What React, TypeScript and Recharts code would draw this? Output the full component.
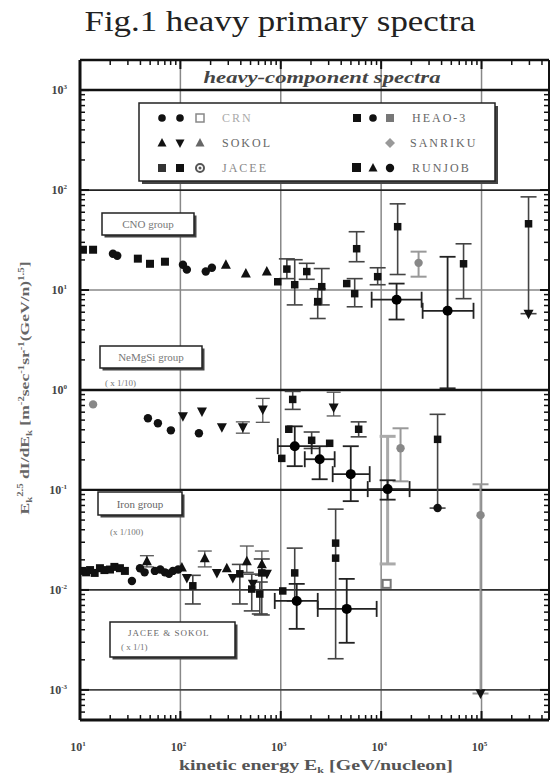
import React from "react";
import { ScatterChart, Scatter, XAxis, YAxis, ErrorBar, ReferenceLine } from "recharts";

// rows: [E (GeV/n), flux, fluxLow, fluxHigh, eLow, eHigh]
const heaoPts = [
  [10.7, 25.3], [13.5, 25.3], [37.7, 20.6], [49.8, 18.3], [70.2, 19.2],
  [10.5, 0.0155], [11.5, 0.015], [12.6, 0.0158], [14, 0.0148], [15.8, 0.0165],
  [17.5, 0.0158], [19.9, 0.016], [22, 0.017], [25.0, 0.0165], [28, 0.0155],
];
const crnPts = [
  [21.3, 23.1], [23.5, 22.0], [106, 17.9], [116, 16.0], [179, 15.3], [206, 16.7],
  [47.5, 0.521], [59.7, 0.465], [80.4, 0.395], [153, 0.369], [36500, 0.0659],
  [32.9, 0.0123], [39.6, 0.0165], [44, 0.015], [55.7, 0.0155], [63, 0.016],
  [70.1, 0.015], [77, 0.0145], [84.2, 0.0155], [95, 0.016],
];
const sokolUpPts = [
  [284, 17.9], [449, 14.6], [726, 15.3],
  [46.4, 0.0194, 0.017, 0.022], [103.5, 0.0168], [175, 0.0208, 0.017, 0.0245],
  [290, 0.0165], [459, 0.0194, 0.015, 0.0275], [648, 0.0181, 0.014, 0.0245],
];
const sokolDownPts = [
  [106, 0.546], [164, 0.611], [259, 0.424], [419, 0.424, 0.37, 0.48],
  [662, 0.64, 0.475, 0.824], [3365, 0.67, 0.55, 0.95],
  [116, 0.0132], [231, 0.0148], [333, 0.0132], [527, 0.0115], [728, 0.0145],
  [294000, 5.8], [97700, 0.00092],
];
const jaceePts = [
  [933, 12.1], [1150, 16.2, 13, 20.5], [1377, 11.3, 7.1, 20.1], [1815, 15.3, 12.8, 18.5],
  [2334, 7.66, 5.19, 10.3], [2559, 10.8, 7.1, 16.4], [4540, 11.6], [5450, 9.2, 6.8, 13.0],
  [5700, 25.9, 19.2, 38.3], [9230, 13.6, 11.3, 16.7], [14600, 43.0, 14.3, 72.8],
  [66200, 18.3, 8.2, 29.0], [294000, 46.0, 5.8, 85.5],
  [1315, 0.805, 0.64, 0.968], [1202, 0.405], [2031, 0.314, 0.26, 0.38], [3070, 0.293],
  [5970, 0.405, 0.34, 0.48], [1023, 0.207], [36500, 0.321, 0.0659, 0.571],
  [133, 0.011, 0.00724, 0.014], [391, 0.0145, 0.00724, 0.018], [514, 0.0102, 0.00617, 0.0144],
  [618, 0.0091, 0.00575, 0.012], [647, 0.0148, 0.00562, 0.0204], [1047, 0.00977],
  [1377, 0.0148, 0.00776, 0.0262], [3520, 0.0208, 0.00205, 0.0643], [3520, 0.0294],
];
const runjobPts = [
  [14250, 8.0, 5.07, 11.6, 8040, 25300], [45900, 6.2, 1.04, 21.5, 25900, 83200],
  [1378, 0.274, 0.173, 0.433, 934, 2031], [2440, 0.203, 0.128, 0.274, 1734, 3442],
  [4980, 0.144, 0.0773, 0.274, 3290, 7690], [11600, 0.102, 0.08, 0.125, 7350, 19200],
  [1442, 0.00776, 0.00408, 0.0115, 871, 2335], [4540, 0.00646, 0.00296, 0.0129, 2335, 9020],
];
const greyPts = [
  [23600, 18.7, 13.6, 24.2], [13.5, 0.718], [15600, 0.261, 0.122, 0.414],
  [97700, 0.056, 0.00092, 0.114],
];
const openSqPts = [[11350, 0.0115]];
const greyBarPts = [[11600, 0.08, 0.0182, 0.344]];

const xDecades = [10, 100, 1000, 10000, 100000];
const yDecades = [0.0001, 0.001, 0.01, 0.1, 1, 10, 100, 1000];
const minorSteps = [1, 2, 3, 4, 5, 6, 7, 8, 9];
const X_DOMAIN = [10, 470000];
const Y_DOMAIN = [0.0005, 2000];

const xTicks = xDecades.flatMap((d) => minorSteps.map((m) => m * d)).filter((v) => v <= X_DOMAIN[1]);
const yTicks = yDecades
  .flatMap((d) => minorSteps.map((m) => m * d))
  .filter((v) => v >= Y_DOMAIN[0] && v <= Y_DOMAIN[1]);

const PLOT_LEFT = 80;
const PLOT_RIGHT = 549;
const PLOT_TOP = 60;
const PLOT_BOTTOM = 720;

const toData = (rows: number[][]) =>
  rows.map(([e, v, lo, hi, elo, ehi]) => ({
    e,
    v,
    ey: lo !== undefined ? [v - lo, hi - v] : undefined,
    ex: elo !== undefined ? [e - elo, ehi - e] : undefined,
  }));

const isDecade = (v: number) => Math.abs(Math.log10(v) - Math.round(Math.log10(v))) < 1e-6;

const labelFont = { fontFamily: "'Liberation Serif', serif", fontWeight: 700, fill: "#444" };

const XTick = (props: any) => {
  const { x, payload } = props;
  const major = isDecade(payload.value);
  const len = major ? 9 : 5;
  const exp = Math.round(Math.log10(payload.value));
  return (
    <g>
      <line x1={x} x2={x} y1={PLOT_BOTTOM} y2={PLOT_BOTTOM - len} stroke="#111" strokeWidth={major ? 2 : 1.5} />
      <line x1={x} x2={x} y1={PLOT_TOP} y2={PLOT_TOP + len} stroke="#111" strokeWidth={major ? 2 : 1.5} />
      {major && (
        <text x={x - 2} y={751} textAnchor="middle" fontSize={12} {...labelFont}>
          10<tspan dy={-5} fontSize={7}>{exp}</tspan>
        </text>
      )}
    </g>
  );
};

const YTick = (props: any) => {
  const { y, payload } = props;
  const major = isDecade(payload.value);
  const len = major ? 9 : 5;
  const exp = Math.round(Math.log10(payload.value));
  return (
    <g>
      <line x1={PLOT_LEFT} x2={PLOT_LEFT + len} y1={y} y2={y} stroke="#111" strokeWidth={major ? 2 : 1.5} />
      <line x1={PLOT_RIGHT} x2={PLOT_RIGHT - len} y1={y} y2={y} stroke="#111" strokeWidth={major ? 2 : 1.5} />
      {major && (
        <text x={67} y={y + 4} textAnchor="end" fontSize={12} {...labelFont}>
          10<tspan dy={-5} fontSize={7}>{exp}</tspan>
        </text>
      )}
    </g>
  );
};

const circle = (fill: string, r = 4.2) => (p: any) => <circle cx={p.cx} cy={p.cy} r={r} fill={fill} />;
const square = (fill: string, s = 8) => (p: any) => (
  <rect x={p.cx - s / 2} y={p.cy - s / 2} width={s} height={s} fill={fill} />
);
const triUp = (fill: string) => (p: any) => (
  <polygon points={`${p.cx},${p.cy - 5.5} ${p.cx - 5},${p.cy + 4} ${p.cx + 5},${p.cy + 4}`} fill={fill} />
);
const triDown = (fill: string) => (p: any) => (
  <polygon points={`${p.cx},${p.cy + 5.5} ${p.cx - 5},${p.cy - 4} ${p.cx + 5},${p.cy - 4}`} fill={fill} />
);
const openSquare = (p: any) => (
  <rect x={p.cx - 4} y={p.cy - 4} width={8} height={8} fill="#fff" stroke="#777" strokeWidth={2} />
);
const noMark = () => <g />;

const hLines = [
  { y: 1000, stroke: "#111", w: 2.5 },
  { y: 100, stroke: "#222", w: 1.8 },
  { y: 10, stroke: "#888", w: 1.5 },
  { y: 1, stroke: "#111", w: 2.5 },
  { y: 0.1, stroke: "#111", w: 2.2 },
  { y: 0.01, stroke: "#333", w: 1.8 },
  { y: 0.001, stroke: "#444", w: 1.6 },
];

const Shadowed = ({ x, y, w, h, off = 3 }: any) => (
  <g>
    <rect x={x + off} y={y + off} width={w} height={h} fill="#444" />
    <rect x={x} y={y} width={w} height={h} fill="#fff" stroke="#222" strokeWidth={1.5} />
  </g>
);

const serif = "'Liberation Serif', serif";

const Overlay = () => (
  <svg width={551} height={775} style={{ position: "absolute", left: 0, top: 0, pointerEvents: "none" }}>
    <text x={280} y={31} textAnchor="middle" fontFamily={serif} fontSize={30} fill="#222" textLength={391} lengthAdjust="spacingAndGlyphs">
      Fig.1 heavy primary spectra
    </text>
    <text x={322} y={83} textAnchor="middle" fontFamily={serif} fontStyle="italic" fontWeight={700} fontSize={17} fill="#444" textLength={237} lengthAdjust="spacingAndGlyphs">
      heavy-component spectra
    </text>

    {/* legend */}
    <Shadowed x={139} y={103} w={356} h={78} />
    <circle cx={162} cy={118} r={3.8} fill="#111" />
    <circle cx={180} cy={118} r={3.8} fill="#111" />
    <rect x={196} y={114} width={8} height={8} fill="#fff" stroke="#888" strokeWidth={1.5} />
    <polygon points="162,138 157.5,146.5 166.5,146.5" fill="#111" />
    <polygon points="180,148 175.5,139.5 184.5,139.5" fill="#111" />
    <polygon points="200,138 195.5,146.5 204.5,146.5" fill="#666" />
    <rect x={158} y={164} width={8} height={8} fill="#333" />
    <rect x={176} y={164} width={8} height={8} fill="#111" />
    <circle cx={200} cy={168} r={4} fill="#fff" stroke="#555" strokeWidth={2} />
    <circle cx={200} cy={168} r={1.5} fill="#555" />
    <text x={222} y={122} fontFamily={serif} fontSize={12} fill="#aaa" letterSpacing={2}>CRN</text>
    <text x={222} y={147} fontFamily={serif} fontSize={12} fill="#666" letterSpacing={2}>SOKOL</text>
    <text x={222} y={172} fontFamily={serif} fontSize={12} fill="#888" letterSpacing={2}>JACEE</text>

    <rect x={353} y={114} width={8} height={8} fill="#111" />
    <circle cx={373} cy={118} r={3.8} fill="#111" />
    <rect x={386} y={114} width={8} height={8} fill="#777" />
    <polygon points="390,138 395,143 390,148 385,143" fill="#999" />
    <rect x={352} y={163} width={9} height={9} fill="#111" />
    <polygon points="373,163 368.5,171.5 377.5,171.5" fill="#111" />
    <circle cx={390} cy={168} r={4.2} fill="#111" />
    <text x={412} y={122} fontFamily={serif} fontSize={12} fill="#666" letterSpacing={2}>HEAO-3</text>
    <text x={410} y={147} fontFamily={serif} fontSize={12} fill="#666" letterSpacing={2}>SANRIKU</text>
    <text x={412} y={172} fontFamily={serif} fontSize={12} fill="#666" letterSpacing={2}>RUNJOB</text>

    {/* group labels */}
    <Shadowed x={102} y={213} w={92} h={22} off={2.5} />
    <text x={148} y={228} textAnchor="middle" fontFamily={serif} fontSize={11} fill="#777">CNO group</text>
    <Shadowed x={100} y={346} w={102} h={22} off={2.5} />
    <text x={151} y={361} textAnchor="middle" fontFamily={serif} fontSize={11} fill="#777">NeMgSi group</text>
    <text x={105} y={386} fontFamily={serif} fontSize={9} fill="#777">( x 1/10)</text>
    <Shadowed x={98} y={492} w={84} h={23} off={2.5} />
    <text x={140} y={508} textAnchor="middle" fontFamily={serif} fontSize={11} fill="#666">Iron group</text>
    <text x={110} y={535} fontFamily={serif} fontSize={9} fill="#777">(x 1/100)</text>
    <Shadowed x={110} y={622} w={125} h={35} off={2.5} />
    <text x={128} y={636} fontFamily={serif} fontSize={9} fill="#666" letterSpacing={1}>JACEE &amp; SOKOL</text>
    <text x={121} y={650} fontFamily={serif} fontSize={9} fill="#777">( x 1/1)</text>

    {/* axis titles */}
    <text transform="translate(29,388) rotate(-90)" textAnchor="middle" fontFamily={serif} fontWeight={700} fontSize={13} fill="#666" textLength={253} lengthAdjust="spacingAndGlyphs">
      E<tspan fontSize={8} dy={3}>k</tspan><tspan fontSize={8} dy={-9}>2.5</tspan><tspan dy={6}> dI/dE</tspan><tspan fontSize={8} dy={3}>k</tspan><tspan dy={-3}> [m</tspan><tspan fontSize={8} dy={-5}>-2</tspan><tspan dy={5}>sec</tspan><tspan fontSize={8} dy={-5}>-1</tspan><tspan dy={5}>sr</tspan><tspan fontSize={8} dy={-5}>-1</tspan><tspan dy={5}>(GeV/n)</tspan><tspan fontSize={8} dy={-5}>1.5</tspan><tspan dy={5}>]</tspan>
    </text>
    <text x={316} y={770} textAnchor="middle" fontFamily={serif} fontWeight={700} fontSize={15} fill="#555" textLength={274} lengthAdjust="spacingAndGlyphs">
      kinetic energy  E<tspan fontSize={9} dy={3}>k</tspan><tspan dy={-3}> [GeV/nucleon]</tspan>
    </text>
  </svg>
);

export default function App() {
  return (
    <div style={{ position: "absolute", left: 0, top: 0, width: 551, height: 775, background: "#fff" }}>
      <ScatterChart width={551} height={775} margin={{ top: 60, right: 2, bottom: 25, left: 0 }}>
        <XAxis
          dataKey="e"
          type="number"
          scale="log"
          domain={X_DOMAIN}
          allowDataOverflow
          ticks={xTicks}
          interval={0}
          tick={<XTick />}
          tickLine={false}
          tickSize={0}
          tickMargin={0}
          height={30}
          axisLine={{ stroke: "#111", strokeWidth: 3 }}
        />
        <YAxis
          dataKey="v"
          type="number"
          scale="log"
          domain={Y_DOMAIN}
          allowDataOverflow
          ticks={yTicks}
          interval={0}
          tick={<YTick />}
          tickLine={false}
          tickSize={0}
          tickMargin={0}
          width={80}
          axisLine={{ stroke: "#111", strokeWidth: 3 }}
        />
        {xDecades.slice(1).map((x) => (
          <ReferenceLine key={"x" + x} x={x} stroke="#888" strokeWidth={1.5} />
        ))}
        {hLines.map((l) => (
          <ReferenceLine key={"y" + l.y} y={l.y} stroke={l.stroke} strokeWidth={l.w} />
        ))}
        <ReferenceLine y={Y_DOMAIN[1]} stroke="#111" strokeWidth={2.5} ifOverflow="visible" />
        <ReferenceLine x={X_DOMAIN[1]} stroke="#111" strokeWidth={2} ifOverflow="visible" />

        <Scatter data={toData(greyBarPts)} shape={noMark} isAnimationActive={false}>
          <ErrorBar dataKey="ey" direction="y" width={8} stroke="#aaa" strokeWidth={3} />
        </Scatter>
        <Scatter data={toData(greyPts)} shape={circle("#888", 4.2)} isAnimationActive={false}>
          <ErrorBar dataKey="ey" direction="y" width={8} stroke="#999" strokeWidth={2} />
        </Scatter>
        <Scatter data={toData(openSqPts)} shape={openSquare} isAnimationActive={false} />
        <Scatter data={toData(heaoPts)} shape={square("#111")} isAnimationActive={false} />
        <Scatter data={toData(crnPts)} shape={circle("#111")} isAnimationActive={false} />
        <Scatter data={toData(sokolUpPts)} shape={triUp("#111")} isAnimationActive={false}>
          <ErrorBar dataKey="ey" direction="y" width={7} stroke="#555" strokeWidth={1.3} />
        </Scatter>
        <Scatter data={toData(sokolDownPts)} shape={triDown("#111")} isAnimationActive={false}>
          <ErrorBar dataKey="ey" direction="y" width={7} stroke="#555" strokeWidth={1.3} />
        </Scatter>
        <Scatter data={toData(jaceePts)} shape={square("#111", 7.5)} isAnimationActive={false}>
          <ErrorBar dataKey="ey" direction="y" width={8} stroke="#444" strokeWidth={1.6} />
        </Scatter>
        <Scatter data={toData(runjobPts)} shape={circle("#000", 5)} isAnimationActive={false}>
          <ErrorBar dataKey="ey" direction="y" width={8} stroke="#222" strokeWidth={1.8} />
          <ErrorBar dataKey="ex" direction="x" width={8} stroke="#222" strokeWidth={1.8} />
        </Scatter>
      </ScatterChart>
      <Overlay />
    </div>
  );
}
